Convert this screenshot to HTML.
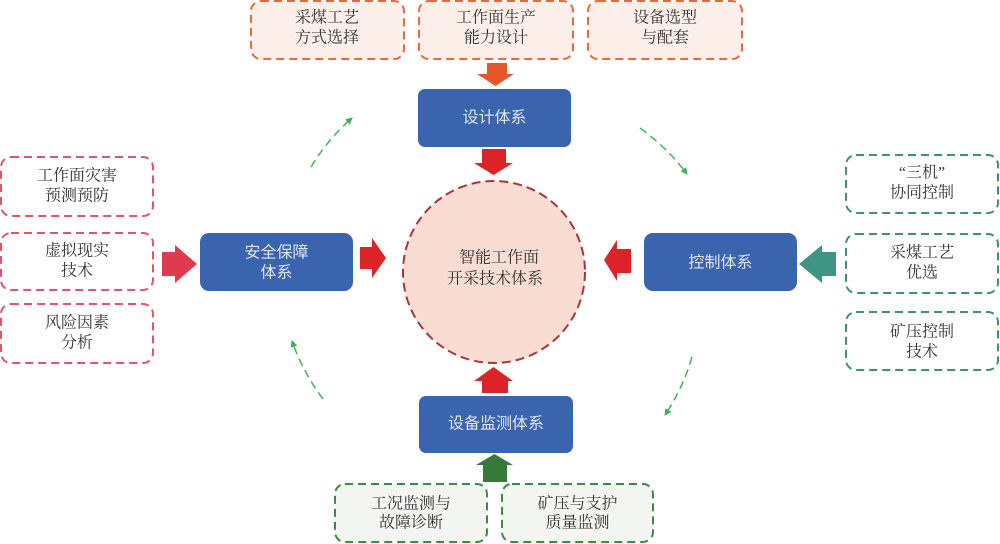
<!DOCTYPE html>
<html>
<head>
<meta charset="utf-8">
<style>
  html, body { margin:0; padding:0; background:#ffffff; }
  body { width:1000px; height:544px; overflow:hidden; }
  svg { display:block; }
  .dk { font-family:"Liberation Serif","Noto Serif CJK SC",serif; font-size:16px; fill:#333333; }
  .wt { font-family:"Liberation Sans","Noto Sans CJK SC",sans-serif; font-size:16px; fill:#dfe5f2; }
</style>
</head>
<body>
<svg width="1000" height="544" viewBox="0 0 1000 544" xmlns="http://www.w3.org/2000/svg">
  <defs>
    <marker id="ga" markerWidth="8" markerHeight="8" refX="6" refY="4" orient="auto" markerUnits="userSpaceOnUse">
      <path d="M0,0.5 L7,4 L0,7.5 Z" fill="#3fae55"/>
    </marker>
  </defs>

  <!-- Top boxes -->
  <g fill="#fcefea" stroke="#e9683f" stroke-width="2" stroke-dasharray="8,5">
    <rect x="251" y="1" width="153" height="58" rx="10"/>
    <rect x="419" y="1" width="154" height="58" rx="10"/>
    <rect x="588" y="1" width="154" height="58" rx="10"/>
  </g>
  <g class="dk" text-anchor="middle" dominant-baseline="central">
    <text x="327" y="18">采煤工艺</text>
    <text x="327" y="38">方式选择</text>
    <text x="496" y="18">工作面生产</text>
    <text x="496" y="38">能力设计</text>
    <text x="665" y="18">设备选型</text>
    <text x="665" y="38">与配套</text>
  </g>

  <!-- Orange down arrow -->
  <path d="M487,63 L507,63 L507,74 L514,74 L495.5,86 L477,74 L487,74 Z" fill="#e4572a"/>

  <!-- Design box -->
  <rect x="418" y="89" width="153" height="58" rx="7" fill="#3a64ad"/>
  <text class="wt" x="494.5" y="118" text-anchor="middle" dominant-baseline="central">设计体系</text>

  <!-- Red down arrow -->
  <path d="M482,149 L506,149 L506,163 L513,163 L493.5,175 L474,163 L482,163 Z" fill="#dc2328"/>

  <!-- Central circle -->
  <circle cx="494" cy="272" r="91" fill="#f9ddd2" stroke="#a9343a" stroke-width="2" stroke-dasharray="9,5"/>
  <g class="dk" text-anchor="middle" dominant-baseline="central">
    <text x="499" y="258">智能工作面</text>
    <text x="495" y="279">开采技术体系</text>
  </g>

  <!-- Left boxes -->
  <g fill="#ffffff" stroke="#e25469" stroke-width="2" stroke-dasharray="8,5">
    <rect x="1" y="157" width="152" height="59" rx="10"/>
    <rect x="1" y="233" width="152" height="57" rx="10"/>
    <rect x="1" y="304" width="152" height="59" rx="10"/>
  </g>
  <g class="dk" text-anchor="middle" dominant-baseline="central">
    <text x="77" y="176">工作面灾害</text>
    <text x="77" y="196">预测预防</text>
    <text x="77" y="251">虚拟现实</text>
    <text x="77" y="271">技术</text>
    <text x="77" y="323">风险因素</text>
    <text x="77" y="343">分析</text>
  </g>

  <!-- Pink right arrow -->
  <path d="M162,252 L175,252 L175,245 L197,264 L175,283 L175,276 L162,276 Z" fill="#dd3b52"/>

  <!-- Safety box -->
  <rect x="200" y="233" width="153" height="58" rx="9" fill="#3a64ad"/>
  <g class="wt" text-anchor="middle" dominant-baseline="central">
    <text x="276.5" y="253">安全保障</text>
    <text x="276.5" y="273">体系</text>
  </g>

  <!-- Red right arrow into circle -->
  <path d="M360,247 L372,247 L372,238 L386,258 L372,278 L372,269 L360,269 Z" fill="#dc2328"/>

  <!-- Red left arrow into circle -->
  <path d="M631,249 L617,249 L617,240 L604,260 L617,281 L617,273 L631,273 Z" fill="#dc2328"/>

  <!-- Control box -->
  <rect x="644" y="233" width="153" height="58" rx="9" fill="#3a64ad"/>
  <text class="wt" x="720.5" y="263" text-anchor="middle" dominant-baseline="central">控制体系</text>

  <!-- Teal left arrow -->
  <path d="M836,252 L822,252 L822,245 L799,264 L822,283 L822,276 L836,276 Z" fill="#3f9484"/>

  <!-- Right boxes -->
  <g fill="#ffffff" stroke="#3f8e80" stroke-width="2" stroke-dasharray="8,5">
    <rect x="846" y="155" width="152" height="58" rx="10"/>
    <rect x="846" y="234" width="152" height="59" rx="10"/>
    <rect x="846" y="312" width="152" height="58" rx="10"/>
  </g>
  <g class="dk" text-anchor="middle" dominant-baseline="central">
    <text x="922" y="173">“三机”</text>
    <text x="922" y="193">协同控制</text>
    <text x="922" y="253">采煤工艺</text>
    <text x="922" y="273">优选</text>
    <text x="922" y="332">矿压控制</text>
    <text x="922" y="352">技术</text>
  </g>

  <!-- Red up arrow -->
  <path d="M482,393 L508,393 L508,381 L513,381 L493.5,367 L474,381 L482,381 Z" fill="#dc2328"/>

  <!-- Monitoring box -->
  <rect x="419" y="396" width="154" height="57" rx="7" fill="#3a64ad"/>
  <text class="wt" x="496" y="424" text-anchor="middle" dominant-baseline="central">设备监测体系</text>

  <!-- Green up arrow -->
  <path d="M483,482 L507,482 L507,465 L513,465 L494.5,454 L476,465 L483,465 Z" fill="#357a3a"/>

  <!-- Bottom boxes -->
  <g fill="#f3f6f0" stroke="#3d8a47" stroke-width="2" stroke-dasharray="8,5">
    <rect x="335" y="484" width="152" height="58" rx="10"/>
    <rect x="502" y="484" width="151" height="58" rx="10"/>
  </g>
  <g class="dk" text-anchor="middle" dominant-baseline="central">
    <text x="411" y="504">工况监测与</text>
    <text x="411" y="523">故障诊断</text>
    <text x="577.5" y="504">矿压与支护</text>
    <text x="577.5" y="523">质量监测</text>
  </g>

  <!-- Green dashed cycle arcs -->
  <g fill="none" stroke="#52b462" stroke-width="1.6" stroke-dasharray="8,5" marker-end="url(#ga)">
    <path d="M311,167 Q327.6,139.4 352,118"/>
    <path d="M640,128 Q667.5,148 687,174"/>
    <path d="M692,357 Q682.7,388.6 665,415"/>
    <path d="M323,399 Q303,372.3 292,341"/>
  </g>
</svg>
</body>
</html>
